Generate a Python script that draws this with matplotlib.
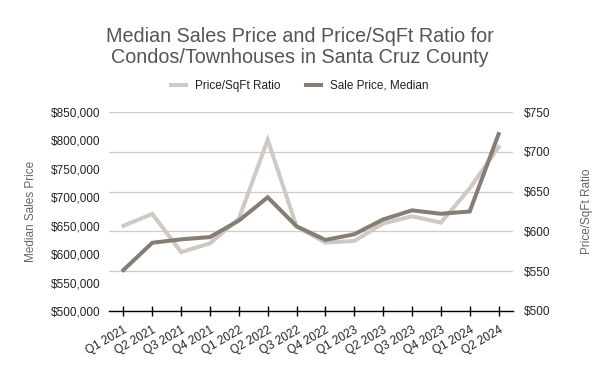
import matplotlib
matplotlib.use("Agg")
import matplotlib.pyplot as plt
from matplotlib.ticker import FuncFormatter

plt.rcParams['font.family'] = ['Liberation Sans', 'DejaVu Sans']

quarters = ['Q1 2021', 'Q2 2021', 'Q3 2021', 'Q4 2021', 'Q1 2022', 'Q2 2022', 'Q3 2022',
            'Q4 2022', 'Q1 2023', 'Q2 2023', 'Q3 2023', 'Q4 2023', 'Q1 2024', 'Q2 2024']
# left axis: median sale price ($)
sale_price = [572000, 620000, 626000, 630000, 659000, 700000, 649000,
              625000, 635000, 661000, 677000, 671000, 675000, 811000]
# right axis: price per sq ft ($)
price_sqft = [607, 622, 574, 585, 616, 715, 606,
              586, 588, 610, 619, 611, 654, 706]

dark = '#867d75'
light = '#cfc8c3'

fig = plt.figure(figsize=(6, 3.71), dpi=100)
ax = fig.add_axes([109 / 600, 1 - 311 / 371, (513 - 109) / 600, (311 - 112) / 371])
ax2 = ax.twinx()

# dark line should sit above the light one
ax.set_zorder(2)
ax2.set_zorder(1)
ax.patch.set_visible(False)

x = list(range(len(quarters)))
ax2.plot(x, price_sqft, color=light, lw=2.9, solid_joinstyle='miter', label='Price/SqFt Ratio')
ax.plot(x, sale_price, color=dark, lw=2.9, solid_joinstyle='miter', label='Sale Price, Median')

ax.set_xlim(-0.5, len(quarters) - 0.5)
ax.set_ylim(500000, 850000)
ax2.set_ylim(500, 750)
ax.set_yticks(range(500000, 850001, 50000))
ax2.set_yticks(range(500, 751, 50))
ax.yaxis.set_major_formatter(FuncFormatter(lambda v, p: f'${v:,.0f}'))
ax2.yaxis.set_major_formatter(FuncFormatter(lambda v, p: f'${v:.0f}'))

ax2.grid(axis='y', color='#cccccc', lw=0.9)
ax2.set_axisbelow(True)

for a in (ax, ax2):
    for s in ('top', 'left', 'right'):
        a.spines[s].set_visible(False)
    a.tick_params(axis='y', length=0, labelsize=8.5, labelcolor='#222222')
ax2.spines['bottom'].set_visible(False)
ax.spines['bottom'].set_color('black')
ax.spines['bottom'].set_linewidth(1)

ax.set_xticks(x)
ax.set_xticklabels(quarters, rotation=30, ha='right', rotation_mode='anchor')
ax.tick_params(axis='x', direction='inout', length=7.5, width=1, color='black',
               labelsize=8.5, labelcolor='#222222', pad=6)
ax.tick_params(axis='y', pad=6)
ax2.tick_params(axis='y', pad=8)

ax.set_ylabel('Median Sales Price', fontsize=8.5, color='#666666', labelpad=10)
ax2.set_ylabel('Price/SqFt Ratio', fontsize=8.5, color='#666666', labelpad=22)

fig.suptitle('Median Sales Price and Price/SqFt Ratio for\nCondos/Townhouses in Santa Cruz County',
             y=0.928, fontsize=14.2, color='#555555', linespacing=1.15)

h2, l2 = ax2.get_legend_handles_labels()
h1, l1 = ax.get_legend_handles_labels()
fig.legend(h2 + h1, l2 + l1, loc='center', bbox_to_anchor=(0.5, 1 - 86 / 371), ncol=2,
           frameon=False, fontsize=8.5, handlelength=1.2, columnspacing=2.2,
           handletextpad=0.8, labelcolor='#222222')

fig.savefig('out.png', dpi=100, facecolor='white')
